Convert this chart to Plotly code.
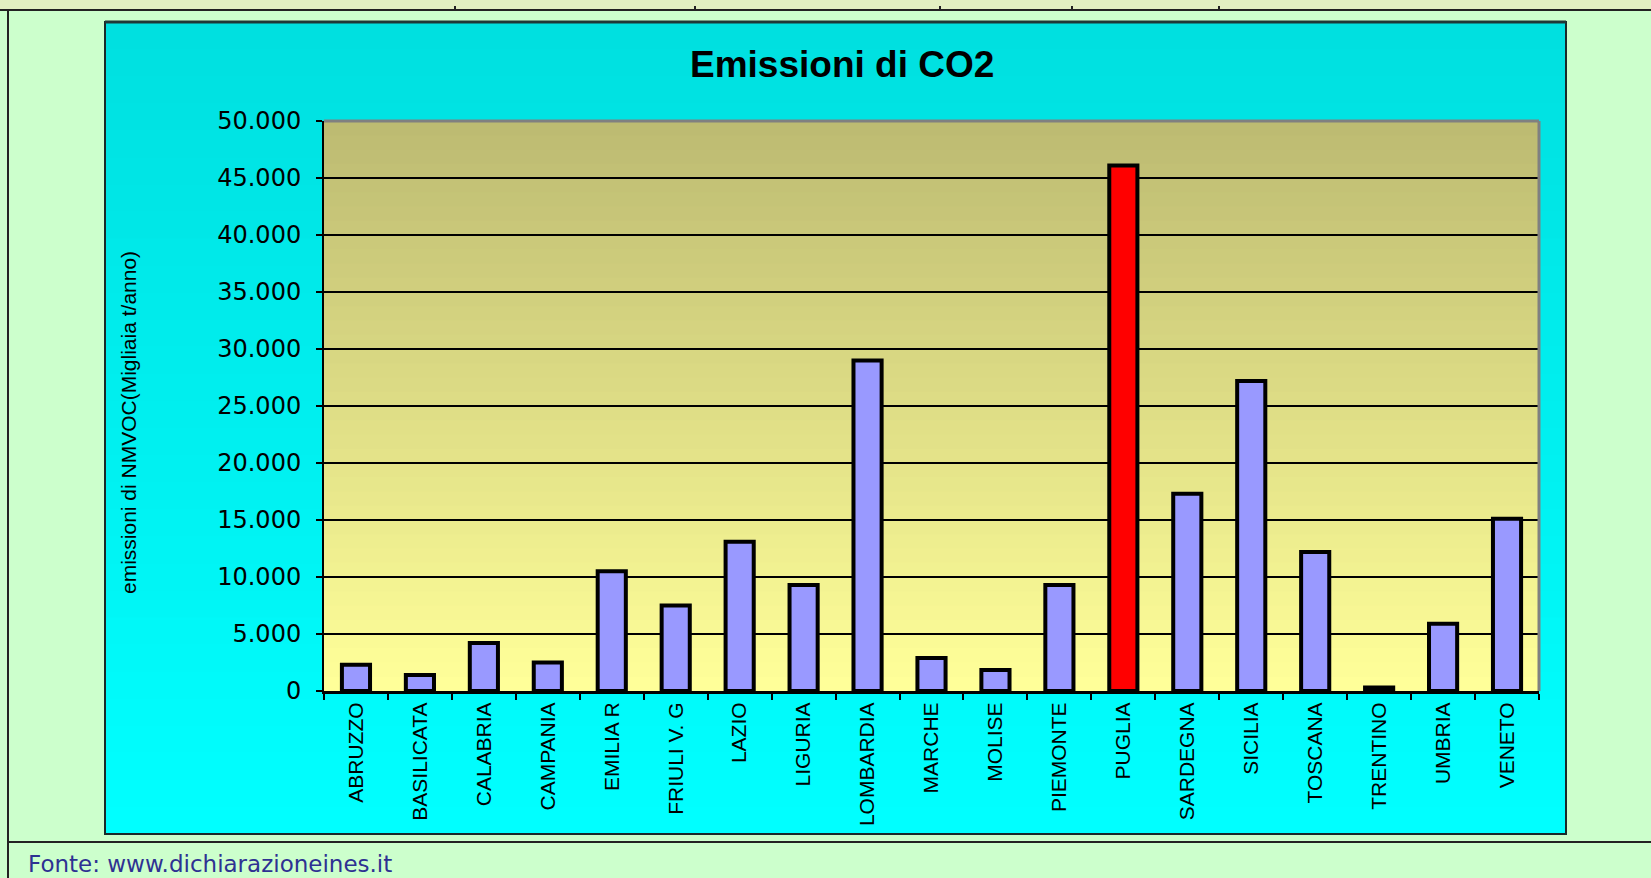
import plotly.graph_objects as go

W, H = 1651, 878

regions = ["ABRUZZO", "BASILICATA", "CALABRIA", "CAMPANIA", "EMILIA R", "FRIULI V. G",
           "LAZIO", "LIGURIA", "LOMBARDIA", "MARCHE", "MOLISE", "PIEMONTE", "PUGLIA",
           "SARDEGNA", "SICILIA", "TOSCANA", "TRENTINO", "UMBRIA", "VENETO"]
emissions = [2300, 1400, 4200, 2500, 10500, 7500, 13100, 9300, 29000, 2900, 1850,
             9300, 46100, 17300, 27200, 12200, 300, 5900, 15100]
highlight = "PUGLIA"

title_text = "<b>Emissioni di CO2</b>"
y_title = "emissioni di NMVOC(Migliaia t/anno)"
source_text = "Fonte: www.dichiarazioneines.it"


def px(x):
    return x / W


def py(y):
    return 1 - y / H


def lerp(c1, c2, t):
    return "rgb(%d,%d,%d)" % tuple(round(a + (b - a) * t) for a, b in zip(c1, c2))


bar_colors = ["#FF0000" if r == highlight else "#9999FF" for r in regions]

fig = go.Figure()
fig.add_trace(go.Bar(
    x=regions, y=emissions,
    marker=dict(color=bar_colors, line=dict(color="black", width=4)),
    width=0.44,
    hoverinfo="x+y",
))

shapes = []
# top page strip
shapes.append(dict(type="rect", xref="paper", yref="paper", x0=0, x1=1, y0=py(10), y1=1,
                   fillcolor="#E2F0C2", line=dict(width=0), layer="below"))
# cyan chart box gradient (overlapping bands to avoid seams)
box_l, box_r, box_t, box_b = 105, 1566, 22, 834
n = 30
for i in range(n):
    t0 = box_t + (box_b - box_t) * i / n
    t1 = min(box_b, box_t + (box_b - box_t) * (i + 1.6) / n)
    shapes.append(dict(type="rect", xref="paper", yref="paper",
                       x0=px(box_l), x1=px(box_r), y0=py(t1), y1=py(t0),
                       fillcolor=lerp((0, 224, 224), (0, 255, 255), i / (n - 1)),
                       line=dict(width=0), layer="below"))
shapes.append(dict(type="rect", xref="paper", yref="paper",
                   x0=px(box_l), x1=px(box_r), y0=py(box_b), y1=py(box_t),
                   line=dict(color="#1a2a2a", width=2), layer="below"))
shapes.append(dict(type="line", xref="paper", yref="paper",
                   x0=px(box_l), x1=px(box_r), y0=py(box_t), y1=py(box_t),
                   line=dict(color="#203838", width=3), layer="below"))

# plot area gradient (khaki -> light yellow)
m = 40
for i in range(m):
    shapes.append(dict(type="rect", xref="x domain", yref="y domain",
                       x0=0, x1=1, y0=max(0, 1 - (i + 1.6) / m), y1=1 - i / m,
                       fillcolor=lerp((189, 187, 114), (255, 255, 153), i / (m - 1)),
                       line=dict(width=0), layer="below"))
# gray shadow top / right of plot area
shapes.append(dict(type="line", xref="x domain", yref="y domain", x0=0, x1=1, y0=1, y1=1,
                   line=dict(color="#808080", width=3), layer="above"))
shapes.append(dict(type="line", xref="x domain", yref="y domain", x0=1, x1=1, y0=0, y1=1,
                   line=dict(color="#808080", width=3), layer="above"))

# page frame lines
shapes.append(dict(type="line", xref="paper", yref="paper", x0=0, x1=1, y0=py(10), y1=py(10),
                   line=dict(color="#222222", width=2)))
shapes.append(dict(type="line", xref="paper", yref="paper", x0=px(8), x1=px(8), y0=0, y1=py(10),
                   line=dict(color="#222222", width=2)))
shapes.append(dict(type="line", xref="paper", yref="paper", x0=px(8), x1=1, y0=py(842), y1=py(842),
                   line=dict(color="#222222", width=2)))
for tx in [455, 695, 940, 1072, 1219]:
    shapes.append(dict(type="line", xref="paper", yref="paper", x0=px(tx), x1=px(tx),
                       y0=py(10), y1=py(6), line=dict(color="#222222", width=2)))

fig.update_layout(
    template="none",
    width=W, height=H,
    autosize=False,
    margin=dict(l=0, r=0, t=0, b=0, pad=0),
    paper_bgcolor="#CCFFCC",
    plot_bgcolor="rgba(0,0,0,0)",
    separators=",.",
    showlegend=False,
    shapes=shapes,
    xaxis=dict(
        domain=[px(324), px(1539)],
        automargin=False,
        type="category",
        tickson="boundaries",
        ticks="outside", ticklen=6, tickwidth=2, tickcolor="black",
        showline=True, linecolor="black", linewidth=3,
        tickangle=-90,
        tickfont=dict(family="Liberation Sans, Arial", size=21, color="black"),
        showgrid=False,
    ),
    yaxis=dict(
        domain=[py(691), py(121)],
        automargin=False,
        range=[0, 50000], dtick=5000, tickformat=",d",
        ticks="outside", ticklen=6, tickwidth=2, tickcolor="black",
        ticklabelstandoff=10,
        showline=True, linecolor="black", linewidth=2,
        showgrid=True, gridcolor="black", gridwidth=1.5,
        zeroline=False,
        tickfont=dict(family="DejaVu Sans", size=24, color="black"),
    ),
    annotations=[
        dict(text=title_text, x=px(842), y=py(65), xref="paper", yref="paper",
             showarrow=False, xanchor="center", yanchor="middle",
             font=dict(family="Liberation Sans, Arial", size=37, color="black")),
        dict(text=y_title, x=px(128), y=py(423), xref="paper", yref="paper",
             showarrow=False, textangle=-90, xanchor="center", yanchor="middle",
             font=dict(family="Liberation Sans, Arial", size=21, color="black")),
        dict(text=source_text, x=px(26), y=py(864), xref="paper", yref="paper",
             showarrow=False, xanchor="left", yanchor="middle",
             font=dict(family="DejaVu Sans", size=23, color="#2E3192")),
    ],
)

fig.write_html("out.html",
               config={"displayModeBar": False},
               post_script="document.body.style.margin='0';document.body.style.overflow='hidden';")
